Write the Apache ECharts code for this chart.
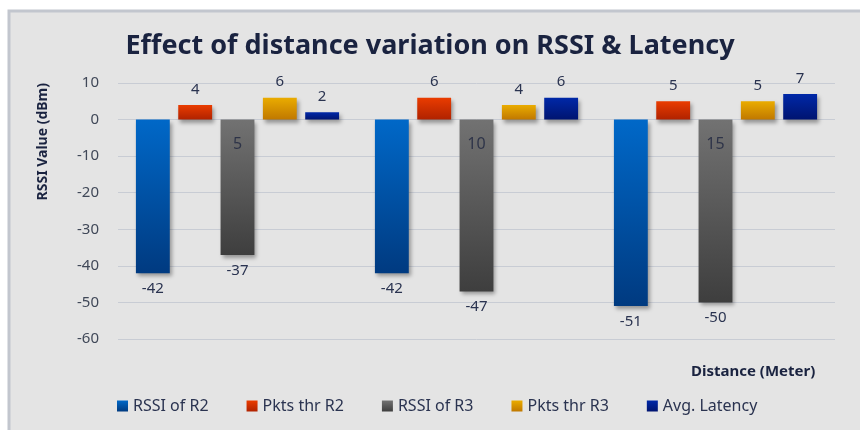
<!DOCTYPE html>
<html>
<head>
<meta charset="utf-8">
<script src="https://cdn.jsdelivr.net/npm/echarts@6/dist/echarts.min.js"></script>
<style>
html, body { margin: 0; padding: 0; background: #ffffff; }
#main { width: 860px; height: 430px; }
</style>
</head>
<body>
<div id="main"></div>
<script>
var categories = ['5', '10', '15'];
var rssiR2 = [-42, -42, -51];
var pktsR2 = [4, 6, 5];
var rssiR3 = [-37, -47, -50];
var pktsR3 = [6, 4, 5];
var avgLatency = [2, 6, 7];
var legendNames = ['RSSI of R2', 'Pkts thr R2', 'RSSI of R3', 'Pkts thr R3', 'Avg. Latency'];

var myChart = echarts.init(document.getElementById('main'));

function grad(top, bottom)
{
    return new echarts.graphic.LinearGradient(0, 0, 0, 1, [
        { offset: 0, color: top },
        { offset: 1, color: bottom }
    ]);
}

// negative bars get their label underneath
function withLabels(values)
{
    return values.map(function (v) {
        return {
            value: v,
            label: { position: v < 0 ? 'bottom' : 'top' }
        };
    });
}

function makeSeries(name, values, top, bottom)
{
    return {
        name: name,
        type: 'bar',
        data: withLabels(values),
        itemStyle: {
            color: grad(top, bottom),
            shadowBlur: 4,
            shadowColor: 'rgba(0,0,0,0.35)',
            shadowOffsetX: 2,
            shadowOffsetY: 3
        },
        label: {
            show: true,
            distance: 8,
            fontSize: 15,
            fontFamily: 'Noto Sans',
            color: '#2a3350'
        },
        barGap: '25%',
        barCategoryGap: '15%'
    };
}

var series = [
    makeSeries(legendNames[0], rssiR2, '#0068c8', '#003a80'),
    makeSeries(legendNames[1], pktsR2, '#ea3c00', '#b02200'),
    makeSeries(legendNames[2], rssiR3, '#727272', '#3e3e3e'),
    makeSeries(legendNames[3], pktsR3, '#eaac00', '#c07800'),
    makeSeries(legendNames[4], avgLatency, '#0028a8', '#001470')
];

// category names sit on the zero line, like the axis in the original
series.push({
    name: 'categoryLabels',
    type: 'scatter',
    symbolSize: 0,
    silent: true,
    z: 10,
    data: categories.map(function (c) { return 0; }),
    label: {
        show: true,
        position: 'bottom',
        distance: 17,
        fontSize: 16,
        fontFamily: 'Noto Sans',
        color: '#1e2540',
        formatter: function (p) { return categories[p.dataIndex]; }
    }
});

var option = {
    animation: false,
    graphic: [
        {
            type: 'rect',
            z: -10,
            shape: { x: 9, y: 11, width: 860, height: 430 },
            style: { fill: '#e4e4e4', stroke: '#c2c6ce', lineWidth: 3 }
        },
        {
            type: 'text',
            left: 36,
            top: 83,
            rotation: Math.PI / 2,
            style: {
                text: 'RSSI Value (dBm)',
                fontSize: 14,
                fontWeight: 'bold',
                fontFamily: 'Noto Sans',
                fill: '#1a2340'
            }
        }
    ],
    title: [
        {
            text: 'Effect of distance variation on RSSI & Latency',
            left: 'center',
            top: 28,
            textStyle: {
                fontSize: 27,
                fontWeight: 'bold',
                fontFamily: 'Noto Sans',
                color: '#1a2340'
            }
        },
        {
            text: 'Distance (Meter)',
            left: 686,
            top: 359,
            textStyle: {
                fontSize: 15,
                fontWeight: 'bold',
                fontFamily: 'Noto Sans',
                color: '#1a2340'
            }
        }
    ],
    legend: {
        data: legendNames,
        left: 112,
        top: 393,
        itemWidth: 11,
        itemHeight: 11,
        itemGap: 38,
        icon: 'rect',
        textStyle: {
            fontSize: 16,
            fontFamily: 'Noto Sans',
            color: '#2a3350'
        }
    },
    grid: {
        left: 118,
        right: 25,
        top: 83,
        bottom: 91
    },
    xAxis: {
        type: 'category',
        data: categories,
        axisLine: { show: false },
        axisTick: { show: false },
        axisLabel: { show: false }
    },
    yAxis: {
        type: 'value',
        min: -60,
        max: 10,
        interval: 10,
        axisLine: { show: false },
        axisTick: { show: false },
        axisLabel: {
            margin: 19,
            fontSize: 15,
            fontFamily: 'Noto Sans',
            color: '#404858'
        },
        splitLine: { lineStyle: { color: '#c8ccd4' } }
    },
    series: series
};

myChart.setOption(option);
</script>
</body>
</html>
